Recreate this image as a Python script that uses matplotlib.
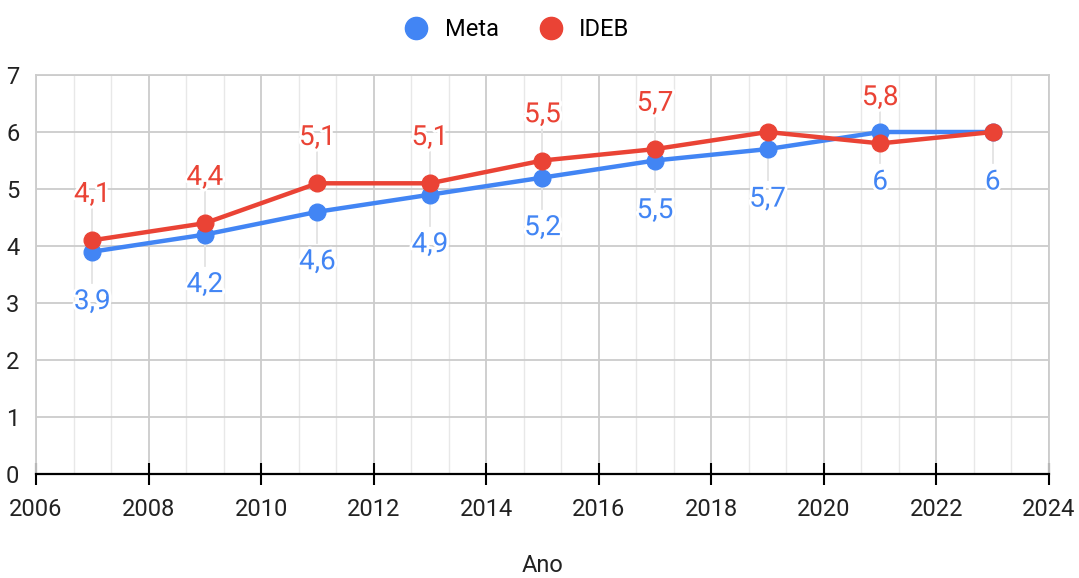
import numpy as np
import matplotlib
matplotlib.use("Agg")
import matplotlib.pyplot as plt
import matplotlib.patheffects as pe
from matplotlib.ticker import MultipleLocator

anos = [2007, 2009, 2011, 2013, 2015, 2017, 2019, 2021, 2023]
meta = [3.9, 4.2, 4.6, 4.9, 5.2, 5.5, 5.7, 6.0, 6.0]
ideb = [4.1, 4.4, 5.1, 5.1, 5.5, 5.7, 6.0, 5.8, 6.0]
# labels shown in the chart (None = hidden)
meta_lbl = ["3,9", "4,2", "4,6", "4,9", "5,2", "5,5", "5,7", "6", "6"]
ideb_lbl = ["4,1", "4,4", "5,1", "5,1", "5,5", "5,7", None, "5,8", None]

BLUE = "#4285F4"
RED = "#EA4335"

plt.rcParams['font.family'] = ['Roboto', 'DejaVu Sans']

fig = plt.figure(figsize=(10.79, 5.78), dpi=100)
ax = fig.add_axes([36 / 1079, 1 - 474 / 578, 1013 / 1079, 399 / 578])

ax.set_xlim(2006, 2024)
ax.set_ylim(0, 7)
ax.xaxis.set_major_locator(MultipleLocator(2))
ax.xaxis.set_minor_locator(MultipleLocator(2 / 3))
ax.yaxis.set_major_locator(MultipleLocator(1))

ax.grid(True, which='major', color='#cccccc', linewidth=1.3)
ax.grid(True, which='minor', axis='x', color='#e8e8e8', linewidth=1.0)
ax.set_axisbelow(True)

for s in ['top', 'right', 'left']:
    ax.spines[s].set_color('#cccccc')
    ax.spines[s].set_linewidth(1.3)
ax.spines['bottom'].set_color('#000000')
ax.spines['bottom'].set_linewidth(1.6)

ax.tick_params(axis='x', which='major', direction='inout', length=16, width=1.5,
               color='black', labelsize=17, pad=9, labelcolor='#222222')
ax.tick_params(axis='x', which='minor', length=0)
ax.tick_params(axis='y', length=0, labelsize=17, pad=12, labelcolor='#222222')

# faint leader lines from points to labels
for x, m, i, ml, il in zip(anos, meta, ideb, meta_lbl, ideb_lbl):
    if ml is not None:
        ax.plot([x, x], [m, m - 0.55], color='#e3e3e3', lw=1.3, zorder=1)
    if il is not None:
        ax.plot([x, x], [i, i + 0.55], color='#e3e3e3', lw=1.3, zorder=1)

ax.plot(anos, meta, color=BLUE, lw=3.2, marker='o', ms=12, label='Meta', zorder=3)
ax.plot(anos, ideb, color=RED, lw=3.2, marker='o', ms=12, label='IDEB', zorder=4)

halo = [pe.withStroke(linewidth=4, foreground='white')]
for x, m, i, ml, il in zip(anos, meta, ideb, meta_lbl, ideb_lbl):
    if ml is not None:
        ax.annotate(ml, (x, m), xytext=(0, -36), textcoords='offset points',
                    ha='center', va='center', color=BLUE, fontsize=20,
                    path_effects=halo, zorder=5)
    if il is not None:
        ax.annotate(il, (x, i), xytext=(0, 33), textcoords='offset points',
                    ha='center', va='center', color=RED, fontsize=20,
                    path_effects=halo, zorder=5)

ax.set_xlabel('Ano', fontsize=17, color='#222222', labelpad=24)

leg = fig.legend(loc='upper center', bbox_to_anchor=(0.478, 1.005), ncol=2,
                 frameon=False, fontsize=17, handlelength=1.2,
                 columnspacing=1.6, handletextpad=0.6)
for h in leg.legend_handles:
    h.set_linestyle('none')
    h.set_markersize(16)

fig.savefig('out.png', dpi=100)
